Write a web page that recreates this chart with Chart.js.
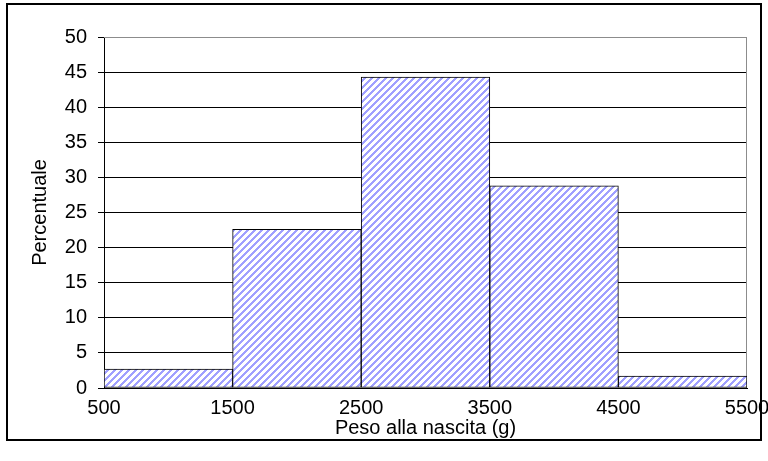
<!DOCTYPE html>
<html>
<head>
<meta charset="utf-8">
<script src="https://cdn.jsdelivr.net/npm/chart.js@4.4.1/dist/chart.umd.min.js"></script>
<style>
  html, body { margin: 0; padding: 0; background: #fff; }
  #wrap { width: 768px; height: 461px; }
</style>
</head>
<body>
<div id="wrap"><canvas id="chart" width="768" height="461"></canvas></div>
<script>
// Histogram data: bin edges (g) and percentage per bin
const binEdges = [500, 1500, 2500, 3500, 4500, 5500];
const percentages = [2.7, 22.6, 44.3, 28.8, 1.7];
const xTicks = [500, 1500, 2500, 3500, 4500, 5500];
const yTicks = [0, 5, 10, 15, 20, 25, 30, 35, 40, 45, 50];

const FONT = "'Liberation Sans', Arial, sans-serif";
const FONT_SIZE = 20;

// diagonal hatch fill, like the old spreadsheet pattern
function makeHatch() {
  const size = 7;
  const c = document.createElement("canvas");
  c.width = size;
  c.height = size;
  const g = c.getContext("2d");
  const img = g.createImageData(size, size);
  for (let y = 0; y < size; y++) {
    for (let x = 0; x < size; x++) {
      const i = (y * size + x) * 4;
      const blue = (x + y) % size < 3;
      img.data[i] = blue ? 160 : 255;
      img.data[i + 1] = blue ? 160 : 255;
      img.data[i + 2] = 255;
      img.data[i + 3] = 255;
    }
  }
  g.putImageData(img, 0, 0);
  return document.getElementById("chart").getContext("2d").createPattern(c, "repeat");
}

const points = percentages.map((v, i) => ({
  x: (binEdges[i] + binEdges[i + 1]) / 2,
  y: v,
}));

// outer frame + grey plot-area border
const framePlugin = {
  id: "frame",
  beforeDatasetsDraw(chart) {
    const { ctx, chartArea: a } = chart;
    ctx.save();
    ctx.strokeStyle = "#8c8c8c";
    ctx.lineWidth = 1;
    ctx.beginPath();
    ctx.moveTo(a.left, a.top + 0.5);
    ctx.lineTo(a.right - 0.5, a.top + 0.5);
    ctx.lineTo(a.right - 0.5, a.bottom);
    ctx.stroke();
    ctx.restore();
  },
  afterDraw(chart) {
    const ctx = chart.ctx;
    ctx.save();
    ctx.strokeStyle = "#000";
    ctx.lineWidth = 2;
    ctx.strokeRect(7, 4, 754, 436);
    ctx.restore();
  },
};

new Chart(document.getElementById("chart"), {
  type: "bar",
  data: {
    datasets: [
      {
        data: points,
        backgroundColor: makeHatch(),
        borderColor: "#000",
        borderWidth: 1,
        borderSkipped: false,
        barPercentage: 1,
        categoryPercentage: 1,
      },
    ],
  },
  options: {
    responsive: false,
    animation: false,
    devicePixelRatio: 1,
    layout: { padding: { left: 0, right: 21, top: 37, bottom: 0 } },
    plugins: {
      legend: { display: false },
      tooltip: { enabled: false },
    },
    scales: {
      x: {
        type: "linear",
        offset: false,
        min: binEdges[0],
        max: binEdges[binEdges.length - 1],
        afterBuildTicks: (s) => {
          s.ticks = xTicks.map((v) => ({ value: v }));
        },
        afterFit: (s) => {
          s.height = 73;
          // let the last label hang over the frame like the original
          s.paddingLeft = 0;
          s.paddingRight = 0;
        },
        grid: { display: false, drawTicks: false },
        border: { display: true, color: "#000", width: 1 },
        ticks: {
          color: "#000",
          font: { family: FONT, size: FONT_SIZE },
          padding: 8,
          maxRotation: 0,
          autoSkip: false,
          callback: (v) => String(v),
        },
        title: {
          display: true,
          text: "Peso alla nascita (g)",
          color: "#000",
          font: { family: FONT, size: FONT_SIZE },
          padding: { top: 0, bottom: 21 },
        },
      },
      y: {
        min: 0,
        max: 50,
        afterBuildTicks: (s) => {
          s.ticks = yTicks.map((v) => ({ value: v }));
        },
        afterFit: (s) => {
          s.width = 104;
          s.paddingTop = 0;
          s.paddingBottom = 0;
        },
        grid: {
          color: (c) => (c.tick && c.tick.value === 50 ? "#8c8c8c" : "#000"),
          tickColor: "#000",
          tickLength: 6,
          lineWidth: 1,
        },
        border: { display: true, color: "#000", width: 1 },
        ticks: {
          color: "#000",
          font: { family: FONT, size: FONT_SIZE },
          padding: 11,
          callback: (v) => String(v),
        },
        title: {
          display: true,
          text: "Percentuale",
          color: "#000",
          font: { family: FONT, size: FONT_SIZE },
          padding: { top: 28, bottom: 0 },
        },
      },
    },
  },
  plugins: [framePlugin],
});
</script>
</body>
</html>
